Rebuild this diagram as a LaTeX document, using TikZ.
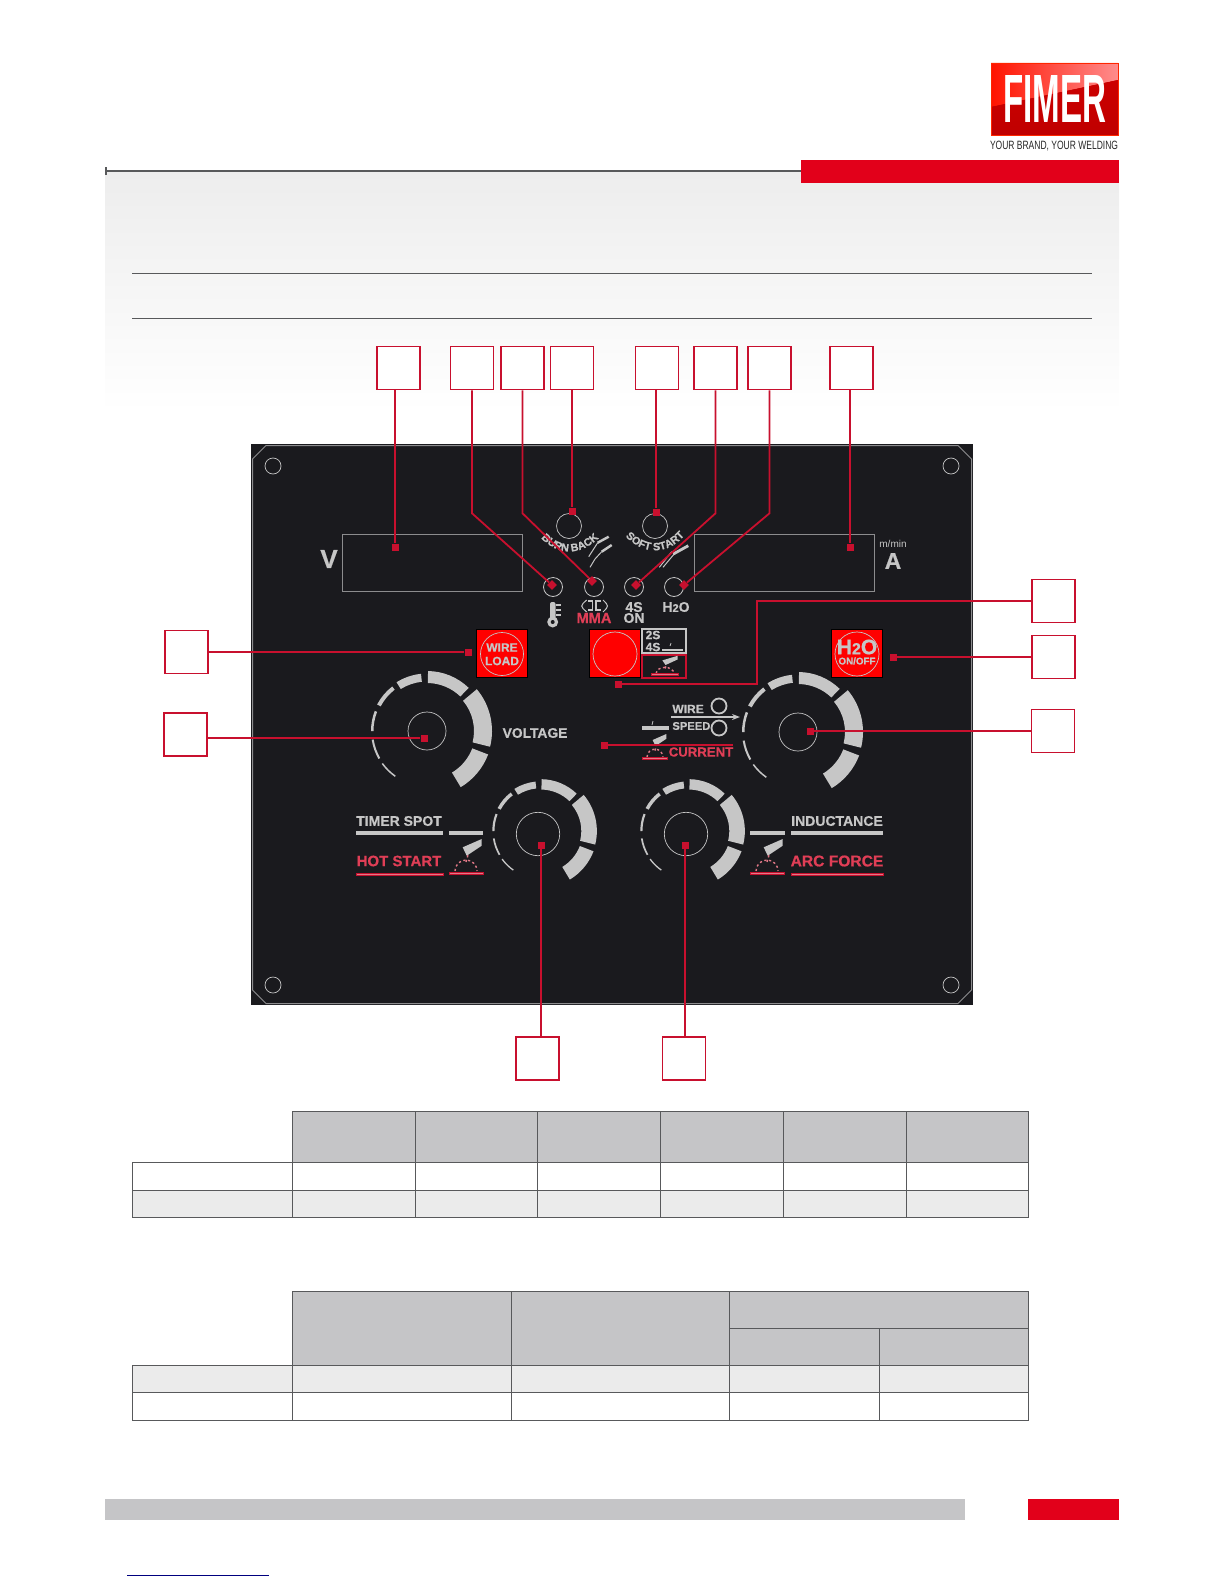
\documentclass[tikz,border=0pt]{standalone}
\usepackage{xcolor}
\usepackage{graphicx}
\usepackage{fontspec}
\setmainfont{Liberation Sans}
\newfontface\panelfont{Liberation Sans Bold}[FakeBold=0.6]
\usepackage{tikz}
\usetikzlibrary{positioning, calc, decorations.text, arrows.meta}
\definecolor{myred}{RGB}{226,0,26}
\definecolor{leaderred}{RGB}{200,16,46}
\definecolor{brightred}{RGB}{255,0,0}
\definecolor{panelblack}{RGB}{26,26,30}
\definecolor{panelgray}{RGB}{198,198,198}
\definecolor{rimgray}{RGB}{140,140,142}
\definecolor{rulegray}{RGB}{88,89,91}
\definecolor{hdrgray}{RGB}{197,197,199}
\definecolor{rowgray}{RGB}{235,235,235}
\definecolor{barefill}{RGB}{237,237,237}
\definecolor{sparkpink}{RGB}{225,120,135}
\definecolor{redlabel}{RGB}{224,62,86}
\definecolor{linkblue}{RGB}{0,0,127}
\newcommand{\fs}[1]{\fontsize{#1}{#1}\selectfont}
\tikzset{
  numbox/.style={rectangle, draw=leaderred, fill=white, minimum size=21.5pt,
    inner sep=0pt, line width=0.8pt},
  marker/.style={rectangle, fill=leaderred, minimum size=3.5pt, inner sep=0pt},
  leader/.style={line width=0.9pt, color=leaderred},
  thinleader/.style={line width=0.6pt, color=leaderred},
  hole/.style={circle, draw=panelgray, minimum size=#1, inner sep=0pt, line width=0.35pt},
  lamp/.style={circle, draw=panelgray, minimum size=9.5pt, inner sep=0pt, line width=0.4pt},
  readout/.style={rectangle, draw=rimgray, minimum width=90pt, minimum height=28.5pt,
    inner sep=0pt, line width=0.5pt},
  redkey/.style={rectangle, fill=brightred, draw=black, minimum width=25.5pt,
    minimum height=24pt, inner sep=0pt, line width=0.4pt},
  paneltext/.style={text=panelgray, inner sep=0pt, font=\panelfont\fs{#1}},
  redtext/.style={text=redlabel, inner sep=0pt, font=\panelfont\fs{#1}},
  grayrule/.style={line width=1.6pt, color=panelgray},
  redrule/.style={line width=0.5pt, draw=leaderred, fill=sparkpink},
  tableline/.style={line width=0.45pt, color=rulegray}
}
% one ring of a dial, thin at the start and heavy at the end
\newcommand{\dialring}[3]{
  \begin{scope}[shift={(#1,#2)}, yscale=-1, scale=#3]
    \foreach \a/\b/\ro/\w in {235/216/56/1.5, 210/189/56/2, 180/159/56/2.5, 152/128/56.5/4,
        122/96/57.5/8, 89/46/60/12, 40/-14/65/18, -21/-59/65.5/17}
      \fill[panelgray] (\a:\ro) arc (\a:\b:\ro) -- (\b:{\ro-\w}) arc (\b:\a:{\ro-\w}) -- cycle;
  \end{scope}
}
\newcommand{\torchmark}[3]{
  \begin{scope}[shift={(#1,#2)}, #3]
    \fill[panelgray] (-3.3,-25.7) -- (15.7,-34) -- (15.7,-27.3) -- (0.7,-17.3) -- cycle;
    \draw[sparkpink, line width=0.7pt, dash pattern=on 1.1pt off 1.3pt] (-11,-2) arc (180:360:11);
    \draw[sparkpink, line width=0.7pt, dash pattern=on 1.1pt off 1.3pt] (0,-11) -- (2.3,-19);
    \draw[redrule] (-17,-1) rectangle (17,1.5);
  \end{scope}
}
\begin{document}
\begin{tikzpicture}[x=0.5pt, y=-0.5pt]
  \useasboundingbox (0,0) rectangle (1224,1584);
  % page head
  \shade[top color=barefill, bottom color=white] (105,172) rectangle (1119,412);
  \fill[myred] (801,160) rectangle (1119,183);
  \draw[line width=1.1pt, color=rulegray] (106,171) -- (801,171);
  \draw[line width=1pt, color=rulegray] (106,167) -- (106,175);
  \draw[line width=0.4pt, color=rulegray] (132,273) -- (1092,273);
  \draw[line width=0.4pt, color=rulegray] (132,318) -- (1092,318);
  % logo
  \fill[red!72!black] (991,63) rectangle (1118,135);
  \shade[left color=red!85!orange, right color=red!45!white]
    (991,63) -- (1118,63) -- (1118,80) -- (991,107) -- cycle;
  \shade[top color=red!80!black, bottom color=red!75!black]
    (991,107) -- (1118,80) -- (1118,135) -- (991,135) -- cycle;
  \draw[line width=0.4pt, color=red!70!orange] (991,63) rectangle (1118,135);
  \node[inner sep=0pt, text=white] (logo) at (1054.5,98.5)
    {\resizebox{51.5pt}{23.5pt}{\bfseries FIMER}};
  \node[inner sep=0pt, text=black!85] (slogan) at (1054,146)
    {\resizebox{64pt}{4.2pt}{YOUR BRAND, YOUR WELDING}};
  % panel
  \fill[panelblack] (251,444) rectangle (973,1005);
  \draw[line width=0.5pt, color=rimgray] (266,445.5) -- (958,445.5) -- (971.5,459) -- (971.5,990)
    -- (958,1003.5) -- (266,1003.5) -- (252.5,990) -- (252.5,459) -- cycle;
  \foreach \nm/\x/\y in {hta/273/466, htb/951/466, htc/273/985, htd/951/985}
    \node[hole=8pt] (\nm) at (\x,\y) {};
  \node[readout] (dispv) at (432,562.5) {};
  \node[readout] (dispa) at (784,562.5) {};
  \node[paneltext=13] (vlab) at (329,559) {V};
  \node[paneltext=11.5] (alab) at (893,561) {A};
  \node[text=panelgray, inner sep=0pt, font=\fs{5}] (mmin) at (893,544) {m/min};
  \node[hole=12.5pt] (burnknob) at (569,526) {};
  \node[hole=12.5pt] (softknob) at (655,526) {};
  \foreach \nm/\x in {ledtemp/553, ledmma/594, ledfour/634, ledwater/674}
    \node[lamp] (\nm) at (\x,587) {};
  % arched captions
  \path[decorate, decoration={text along path, text align=center,
      text={|\panelfont\fs{5.4}\color{panelgray}|BURN BACK}}]
    (541,538) .. controls (558,556) and (580,556) .. (599,538);
  \path[decorate, decoration={text along path, text align=center,
      text={|\panelfont\fs{5.4}\color{panelgray}|SOFT START}}]
    (626,537) .. controls (644,555) and (667,555) .. (684,536);
  \draw[panelgray, line width=1.2pt] (597.7,542.7) -- (608.7,536.7);
  \draw[panelgray, line width=0.5pt] (597.7,542.7) -- (588.7,556.7);
  \draw[panelgray, line width=1.2pt] (601.7,551.7) -- (611.7,545);
  \draw[panelgray, line width=0.5pt] (601.7,551.7) -- (595,559) -- (590,567.3);
  \draw[panelgray, line width=1.4pt] (673.3,554) -- (688.3,545.7);
  \draw[panelgray, line width=0.5pt] (659.3,567.3) -- (671.7,551.7);
  \draw[panelgray, line width=0.5pt] (663,567.3) -- (675,553);
  % lamp captions
  \fill[panelgray, rounded corners=1pt] (550,602) rectangle (555.5,620);
  \fill[panelgray] (552.7,622) circle (5.5);
  \fill[panelblack] (552.7,622) circle (2);
  \foreach \y in {605,610,615}
    \draw[panelgray, line width=0.6pt] (556,\y) -- (561,\y);
  \draw[panelgray, line width=0.5pt] (586.7,600) .. controls (580,606) .. (586.7,612);
  \draw[panelgray, line width=0.5pt] (603,600) .. controls (609,606) .. (603,612);
  \draw[panelgray, line width=0.6pt] (588.3,601) -- (592.8,601) -- (592.8,610) -- (588.3,610);
  \draw[panelgray, line width=0.6pt] (601,601) -- (596,601) -- (596,610) -- (601,610);
  \node[redtext=7.3] (mmalab) at (594,618) {MMA};
  \node[paneltext=7] (fourlab) at (634,607) {4S};
  \node[paneltext=7] (onlab) at (634,618) {ON};
  \node[paneltext=7] (waterlab) at (676,607) {H{\fs{5.5}2}O};
  % keys
  \node[redkey] (wirekey) at (502,653.5) {};
  \node[circle, draw=panelgray, minimum size=21.5pt, inner sep=0pt, line width=0.35pt] (wirering) at (502,654) {};
  \node[paneltext=6] (wirelab) at (502,647.5) {WIRE};
  \node[paneltext=6] (loadlab) at (502,661) {LOAD};
  \node[redkey] (modekey) at (614.5,653.5) {};
  \node[circle, draw=panelgray, minimum size=22pt, inner sep=0pt, line width=0.35pt] (modering) at (615,654) {};
  \draw[panelgray, line width=0.6pt] (642,629) rectangle (686,653);
  \node[paneltext=6] (twolab) at (653,635) {2S};
  \node[paneltext=6] (fourmode) at (653,647) {4S};
  \draw[grayrule, line width=1.2pt] (662,650) -- (683,650);
  \draw[panelgray, line width=0.4pt] (670,646) -- (671,643);
  \draw[leaderred, line width=0.6pt] (642,655) rectangle (686,678);
  \torchmark{665}{674.5}{xscale=0.8, yscale=0.55}
  \node[redkey] (waterkey) at (857,653.5) {};
  \node[circle, draw=panelgray, minimum size=22pt, inner sep=0pt, line width=0.35pt] (waterring) at (857,654) {};
  \node[paneltext=10.5] (waterbig) at (857,647) {H{\fs{8}2}O};
  \node[paneltext=4.9] (onofflab) at (857,661) {ON/OFF};
  % dials
  \dialring{427}{731}{1}
  \dialring{798}{732}{1}
  \dialring{540.7}{831}{0.864}
  \dialring{688.7}{831}{0.864}
  \node[hole=19pt] (voltknob) at (427,731) {};
  \node[hole=19pt] (wireknob) at (798,732) {};
  \node[hole=21.7pt] (timerknob) at (538,834) {};
  \node[hole=21.7pt] (arcknob) at (686,834) {};
  \node[paneltext=6.9] (voltlab) at (535,733) {VOLTAGE};
  % wire speed group
  \node[paneltext=6, anchor=west] (wirespeed) at (672,709) {WIRE};
  \node[paneltext=5.6, anchor=west] (speedlab) at (672,726) {SPEED};
  \node[circle, draw=panelgray, minimum size=7.5pt, inner sep=0pt, line width=0.9pt] (rolla) at (719,706) {};
  \node[circle, draw=panelgray, minimum size=7.5pt, inner sep=0pt, line width=0.9pt] (rollb) at (719,728) {};
  \coordinate (feedin) at (671,717);
  \coordinate (feedout) at (740,717);
  \draw[-{Stealth[length=4pt]}, panelgray, line width=0.7pt] (feedin) -- (feedout);
  \draw[grayrule] (642,728) -- (669,728);
  \draw[panelgray, line width=0.4pt] (652,725) -- (653,721);
  \torchmark{655}{758.5}{scale=0.72}
  \node[redtext=6.6] (currentlab) at (701,752) {CURRENT};
  % function captions
  \node[paneltext=7] (timerlab) at (399,821) {TIMER SPOT};
  \node[redtext=7.5] (hotlab) at (399,861) {HOT START};
  \draw[grayrule] (356,833) -- (443,833);
  \draw[grayrule] (449,833) -- (483,833);
  \draw[redrule] (356,873) rectangle (443,875);
  \torchmark{466}{873}{scale=1}
  \node[paneltext=7] (indlab) at (837,821) {INDUCTANCE};
  \node[redtext=7.8] (forcelab) at (837,861) {ARC FORCE};
  \draw[grayrule] (791,833) -- (883,833);
  \draw[grayrule] (750,833) -- (785,833);
  \draw[redrule] (791,873) rectangle (883,875);
  \torchmark{767}{873}{scale=1}
  % numbered boxes and their leaders
  \foreach \nm/\x/\y in {numa/398.5/368, numb/472/368, numc/522.5/368, numd/572/368, nume/657/368,
      numf/715.5/368, numg/769.5/368, numh/851.5/368, numi/1053.5/601, numj/1053.5/657,
      numk/1053/731, numl/186.5/652, numm/185.5/734.5, numn/537.5/1058.5, numo/684/1058.5}
    \node[numbox] (\nm) at (\x,\y) {};
  \node[marker] (mka) at (395,547) {};
  \node[marker, rotate=45] (mkb) at (552,585) {};
  \node[marker, rotate=45] (mkc) at (592,581) {};
  \node[marker] (mkd) at (572,511) {};
  \node[marker] (mke) at (656,512) {};
  \node[marker, rotate=45] (mkf) at (636,585) {};
  \node[marker, rotate=45] (mkg) at (684,585) {};
  \node[marker] (mkh) at (850,547) {};
  \node[marker] (mki) at (618,684) {};
  \node[marker] (mkj) at (893,657) {};
  \node[marker] (mkk) at (810,731) {};
  \node[marker] (mkl) at (468,652) {};
  \node[marker] (mkm) at (424,738) {};
  \node[marker] (mkn) at (541,845) {};
  \node[marker] (mko) at (685,845) {};
  \node[marker] (mkp) at (604,745) {};
  \coordinate (currentend) at (733,745);
  \coordinate (bendi) at (757,601);
  \draw[leader] (mka |- numa.south) -- (mka);
  \draw[leader] (numb.south) -- ++(0,123) -- (mkb);
  \draw[leader] (numc.south) -- ++(0,123) -- (mkc);
  \draw[leader] (numd.south) -- (mkd);
  \draw[leader] (mke |- nume.south) -- (mke);
  \draw[leader] (numf.south) -- ++(0,123) -- (mkf);
  \draw[leader] (numg.south) -- ++(0,123) -- (mkg);
  \draw[leader] (mkh |- numh.south) -- (mkh);
  \draw[leader] (numi.west) -- (bendi) |- (mki);
  \draw[thinleader] (numj.west) -- (mkj);
  \draw[thinleader] (numk.west) -- (mkk);
  \draw[leader] (numl.east) -- (mkl);
  \draw[leader] (mkm -| numm.east) -- (mkm);
  \draw[leader] (mkn |- numn.north) -- (mkn);
  \draw[leader] (mko |- numo.north) -- (mko);
  \draw[thinleader] (mkp) -- (currentend);
  % tables
  \fill[hdrgray] (292.5,1111) rectangle (1028,1162);
  \fill[rowgray] (132,1190) rectangle (1028,1217);
  \draw[tableline] (292.5,1111) -- (1028,1111) -- (1028,1217) -- (132,1217) -- (132,1162) -- (1028,1162);
  \draw[tableline] (132,1190) -- (1028,1190);
  \foreach \x in {292.5,415.5,537.5,660.5,783.5,906}
    \draw[tableline] (\x,1111) -- (\x,1217);
  \fill[hdrgray] (292.5,1291) rectangle (1028,1365);
  \fill[rowgray] (132,1365) rectangle (1028,1392);
  \draw[tableline] (292.5,1291) -- (1028,1291) -- (1028,1420) -- (132,1420) -- (132,1365) -- (1028,1365);
  \draw[tableline] (132,1392) -- (1028,1392);
  \draw[tableline] (729,1328) -- (1028,1328);
  \foreach \x in {292.5,511,729}
    \draw[tableline] (\x,1291) -- (\x,1420);
  \draw[tableline] (879,1328) -- (879,1420);
  % page foot
  \fill[hdrgray] (105,1499) rectangle (965,1520);
  \fill[myred] (1028,1499) rectangle (1119,1520);
  \draw[line width=0.5pt, color=linkblue] (127,1575) -- (269,1575);
\end{tikzpicture}
\end{document}
